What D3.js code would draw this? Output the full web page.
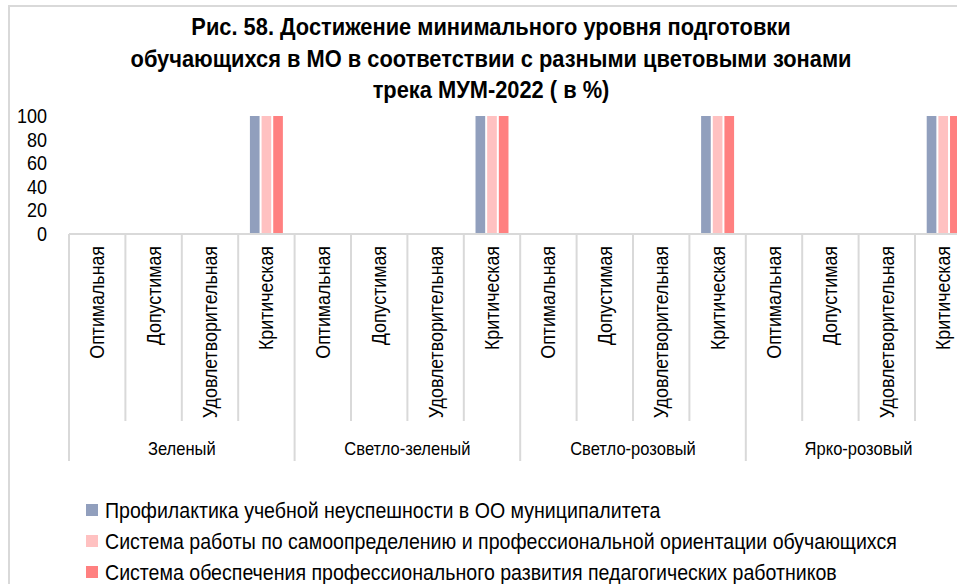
<!DOCTYPE html>
<html>
<head>
<meta charset="utf-8">
<script src="https://d3js.org/d3.v7.min.js"></script>
<style>
body { margin: 0; background: #fff; }
svg text { font-family: "Liberation Sans", Arial, sans-serif; fill: #000; }
.title { font-size: 24px; font-weight: bold; }
.ytick { font-size: 20px; }
.cat { font-size: 20px; }
.grp { font-size: 18px; }
.leg { font-size: 22px; }
</style>
</head>
<body>
<script>

var groups = ["Зеленый", "Светло-зеленый", "Светло-розовый", "Ярко-розовый"];
var zones = ["Оптимальная", "Допустимая", "Удовлетворительная", "Критическая"];
var seriesNames = [
  "Профилактика учебной неуспешности в ОО муниципалитета",
  "Система работы по самоопределению и профессиональной ориентации обучающихся",
  "Система обеспечения профессионального развития педагогических работников"
];
var seriesColors = ["#919fbd", "#ffc1c1", "#ff8080"];
// values per series, 16 categories (4 groups x 4 zones)
var profilaktika    = [0, 0, 0, 100, 0, 0, 0, 100, 0, 0, 0, 100, 0, 0, 0, 100];
var samoopredelenie = [0, 0, 0, 100, 0, 0, 0, 100, 0, 0, 0, 100, 0, 0, 0, 100];
var razvitie        = [0, 0, 0, 100, 0, 0, 0, 100, 0, 0, 0, 100, 0, 0, 0, 100];
var yTicks = [0, 20, 40, 60, 80, 100];
var titleLines = [
  "Рис. 58. Достижение минимального уровня подготовки",
  "обучающихся в МО в соответствии с разными цветовыми зонами",
  "трека МУМ-2022 ( в %)"
];

var width = 957, height = 584;
var seriesValues = [profilaktika, samoopredelenie, razvitie];

// narrow look: squeeze Liberation Sans horizontally
function squeeze(s) { return " scale(" + s + ",1)"; }

var cats = [];
groups.forEach(function(g, gi) {
  zones.forEach(function(z, zi) { cats.push({ key: gi + "-" + zi, group: g, zone: z }); });
});

var svg = d3.select("body").append("svg")
    .attr("width", width)
    .attr("height", height);

// chart border
svg.append("rect")
    .attr("x", 9).attr("y", 6)
    .attr("width", 1000).attr("height", 650)
    .attr("fill", "none")
    .attr("stroke", "#d9d9d9")
    .attr("stroke-width", 2);

// title
svg.append("g").selectAll("text")
    .data(titleLines)
  .enter().append("text")
    .attr("class", "title")
    .attr("transform", function(d, i) { return "translate(491," + (35 + i * 31.5) + ")" + squeeze(0.91); })
    .attr("text-anchor", "middle")
    .text(function(d) { return d; });

var x0 = d3.scaleBand()
    .domain(cats.map(function(d) { return d.key; }))
    .range([69, 69 + 16 * 56.4]);

var x1 = d3.scaleBand()
    .domain([0, 1, 2])
    .range([0, x0.bandwidth() * 0.62]);

var y = d3.scaleLinear()
    .domain([0, 100])
    .range([234, 116]);

// y tick labels (no axis line)
svg.append("g").selectAll("text")
    .data(yTicks)
  .enter().append("text")
    .attr("class", "ytick")
    .attr("transform", function(d) { return "translate(47," + y(d) + ")" + squeeze(0.9); })
    .attr("dy", "0.35em")
    .attr("text-anchor", "end")
    .text(function(d) { return d; });

// bars
var offset = (x0.bandwidth() - x1.range()[1]) / 2;
seriesValues.forEach(function(vals, si) {
  svg.append("g").selectAll("rect")
      .data(vals)
    .enter().append("rect")
      .attr("x", function(d, i) { return x0(cats[i].key) + offset + x1(si) + 1; })
      .attr("width", x1.bandwidth() - 2)
      .attr("y", function(d) { return y(d); })
      .attr("height", function(d) { return y(0) - y(d); })
      .attr("fill", seriesColors[si]);
});

// category axis
var axisG = svg.append("g").attr("stroke", "#d9d9d9").attr("stroke-width", 2);
axisG.append("line")
    .attr("x1", 69).attr("x2", x0.range()[1])
    .attr("y1", y(0)).attr("y2", y(0));

cats.forEach(function(c, i) {
  var xx = x0(c.key);
  var isGroupEdge = i % 4 === 0;
  axisG.append("line")
      .attr("x1", xx).attr("x2", xx)
      .attr("y1", y(0)).attr("y2", isGroupEdge ? 461 : 421);
});
axisG.append("line")
    .attr("x1", x0.range()[1]).attr("x2", x0.range()[1])
    .attr("y1", y(0)).attr("y2", 461);

svg.append("g").selectAll("text")
    .data(cats)
  .enter().append("text")
    .attr("class", "cat")
    .attr("transform", function(d) {
      return "translate(" + (x0(d.key) + x0.bandwidth() / 2) + ",246) rotate(-90)" + squeeze(0.89);
    })
    .attr("dy", "0.35em")
    .attr("text-anchor", "end")
    .text(function(d) { return d.zone; });

svg.append("g").selectAll("text")
    .data(groups)
  .enter().append("text")
    .attr("class", "grp")
    .attr("transform", function(d, gi) {
      return "translate(" + (x0(gi + "-0") + x0.bandwidth() * 2) + ",449)" + squeeze(0.92);
    })
    .attr("dy", "0.35em")
    .attr("text-anchor", "middle")
    .text(function(d) { return d; });

// legend
var legend = svg.append("g").selectAll("g")
    .data(seriesNames)
  .enter().append("g")
    .attr("transform", function(d, i) { return "translate(86," + (510 + i * 31) + ")"; });

legend.append("rect")
    .attr("x", 0).attr("y", -6)
    .attr("width", 12).attr("height", 12)
    .attr("fill", function(d, i) { return seriesColors[i]; });

legend.append("text")
    .attr("class", "leg")
    .attr("transform", "translate(19,0)" + squeeze(0.89))
    .attr("dy", "0.35em")
    .text(function(d) { return d; });

</script>
</body>
</html>
